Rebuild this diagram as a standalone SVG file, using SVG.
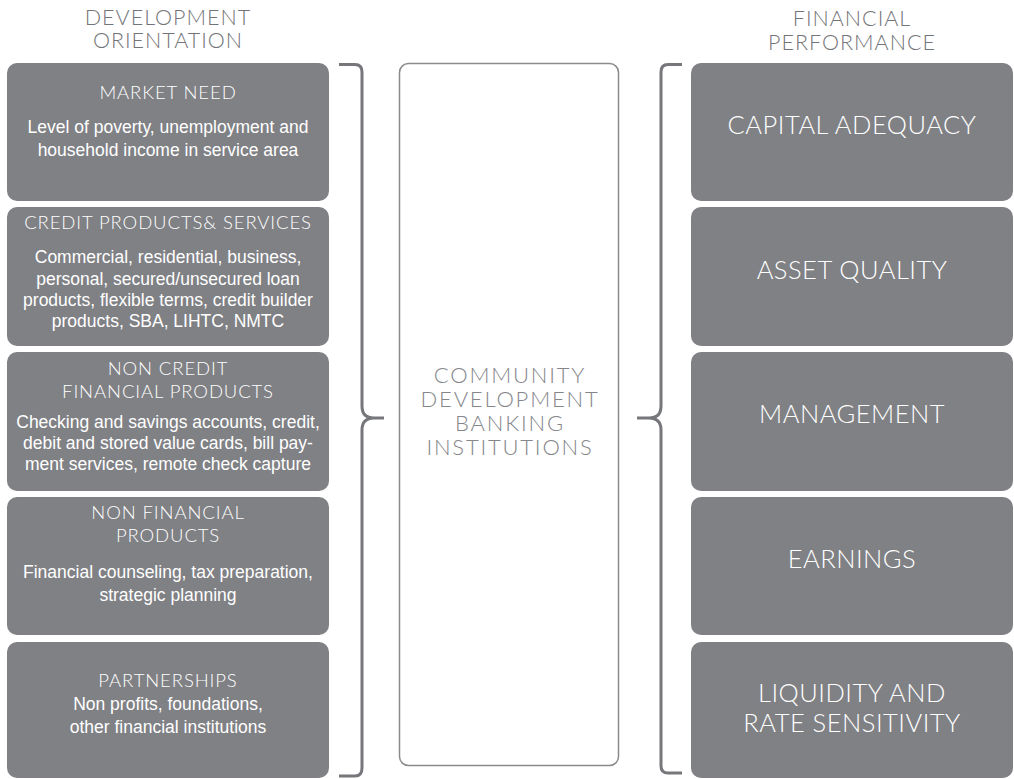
<svg xmlns="http://www.w3.org/2000/svg" width="1014" height="779" viewBox="0 0 1014 779">
<style>
.box{fill:#808185}
.hdr{font-family:Lato,"Open Sans",sans-serif;font-weight:300;font-size:21.5px;letter-spacing:1px;fill:#737477;text-anchor:middle}
.ttl{font-family:Lato,"Open Sans",sans-serif;font-weight:300;font-size:18.5px;letter-spacing:0.9px;fill:#ffffff;text-anchor:middle}
.body{font-family:"Liberation Sans",Arial,sans-serif;font-size:17.5px;fill:#ffffff;text-anchor:middle}
.rt{font-family:Lato,"Open Sans",sans-serif;font-weight:300;font-size:25.5px;letter-spacing:0.5px;fill:#ffffff;text-anchor:middle}
.ctr{font-family:Lato,"Open Sans",sans-serif;font-weight:300;font-size:22px;letter-spacing:1.8px;fill:#85868a;text-anchor:middle}
.brace{fill:none;stroke:#76777a;stroke-width:3;stroke-linecap:butt}
</style>
<rect width="1014" height="779" fill="#ffffff"/>
<g id="header-left">
<text class="hdr" x="168" y="25">DEVELOPMENT</text>
<text class="hdr" x="168" y="48">ORIENTATION</text>
</g>
<g id="header-right">
<text class="hdr" x="852" y="26">FINANCIAL</text>
<text class="hdr" x="852" y="50">PERFORMANCE</text>
</g>
<g id="market-need">
<rect class="box" x="7" y="63" width="322" height="138" rx="10"/>
<text class="ttl" x="168" y="99">MARKET NEED</text>
<text class="body" x="168" y="133">Level of poverty, unemployment and</text>
<text class="body" x="168" y="156">household income in service area</text>
</g>
<g id="credit-products">
<rect class="box" x="7" y="207" width="322" height="139" rx="10"/>
<text class="ttl" x="168" y="229">CREDIT PRODUCTS&amp; SERVICES</text>
<text class="body" x="168" y="263">Commercial, residential, business,</text>
<text class="body" x="168" y="284.5">personal, secured/unsecured loan</text>
<text class="body" x="168" y="306">products, flexible terms, credit builder</text>
<text class="body" x="168" y="327">products, SBA, LIHTC, NMTC</text>
</g>
<g id="non-credit">
<rect class="box" x="7" y="352" width="322" height="139" rx="10"/>
<text class="ttl" x="168" y="375">NON CREDIT</text>
<text class="ttl" x="168" y="398">FINANCIAL PRODUCTS</text>
<text class="body" x="168" y="428">Checking and savings accounts, credit,</text>
<text class="body" x="168" y="449">debit and stored value cards, bill pay-</text>
<text class="body" x="168" y="470">ment services, remote check capture</text>
</g>
<g id="non-financial">
<rect class="box" x="7" y="497" width="322" height="138" rx="10"/>
<text class="ttl" x="168" y="519">NON FINANCIAL</text>
<text class="ttl" x="168" y="542">PRODUCTS</text>
<text class="body" x="168" y="578">Financial counseling, tax preparation,</text>
<text class="body" x="168" y="601">strategic planning</text>
</g>
<g id="partnerships">
<rect class="box" x="7" y="642" width="322" height="136" rx="10"/>
<text class="ttl" x="168" y="687">PARTNERSHIPS</text>
<text class="body" x="168" y="710">Non profits, foundations,</text>
<text class="body" x="168" y="733">other financial institutions</text>
</g>
<g id="cdbi">
<rect x="399.5" y="63.5" width="219" height="702" rx="9" fill="#ffffff" stroke="#8a8b8e" stroke-width="1.5"/>
<text class="ctr" x="510" y="383">COMMUNITY</text>
<text class="ctr" x="510" y="407">DEVELOPMENT</text>
<text class="ctr" x="510" y="431">BANKING</text>
<text class="ctr" x="510" y="455">INSTITUTIONS</text>
</g>
<g id="capital-adequacy">
<rect class="box" x="691" y="63" width="322" height="138" rx="10"/>
<text class="rt" x="852" y="134">CAPITAL ADEQUACY</text>
</g>
<g id="asset-quality">
<rect class="box" x="691" y="207" width="322" height="139" rx="10"/>
<text class="rt" x="852" y="279">ASSET QUALITY</text>
</g>
<g id="management">
<rect class="box" x="691" y="352" width="322" height="139" rx="10"/>
<text class="rt" x="852" y="423">MANAGEMENT</text>
</g>
<g id="earnings">
<rect class="box" x="691" y="497" width="322" height="138" rx="10"/>
<text class="rt" x="852" y="568">EARNINGS</text>
</g>
<g id="liquidity">
<rect class="box" x="691" y="642" width="322" height="136" rx="10"/>
<text class="rt" x="852" y="702">LIQUIDITY AND</text>
<text class="rt" x="852" y="732">RATE SENSITIVITY</text>
</g>
<g id="connectors">
<path class="brace" d="M339,64.5 H355 Q362,64.5 362,72 V406 Q362,418 374,418 H384 M374,418 Q362,418 362,430 V768 Q362,776 355,776 H339"/>
<path class="brace" d="M682,64.5 H668 Q661,64.5 661,72 V406 Q661,418 649,418 H637 M649,418 Q661,418 661,430 V766 Q661,773 668,773 H682"/>
</g>
</svg>
